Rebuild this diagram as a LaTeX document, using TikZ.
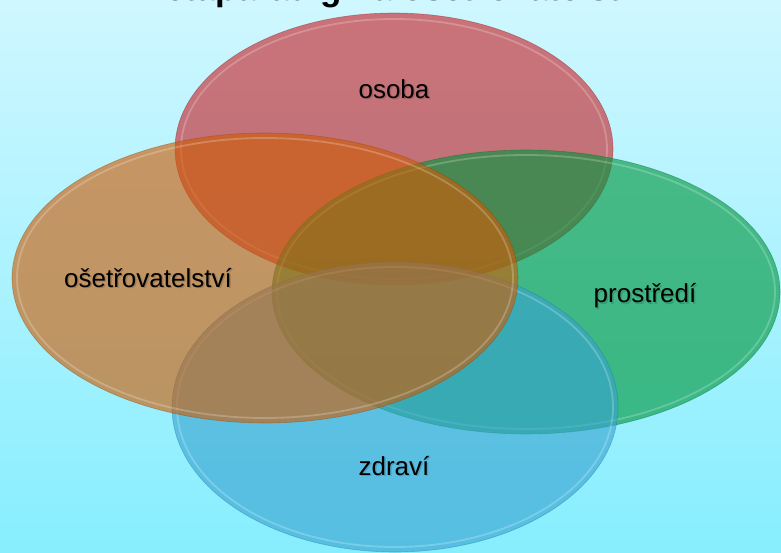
\documentclass[tikz,border=0pt]{standalone}
\usepackage{fontspec}
\setmainfont{Liberation Sans}
\usetikzlibrary{shapes.geometric}

\definecolor{bgtop}{RGB}{207,247,255}
\definecolor{bgbot}{RGB}{135,238,254}
\definecolor{cred}{RGB}{200,35,40}
\definecolor{cgreen}{RGB}{0,150,60}
\definecolor{cblue}{RGB}{55,163,210}
\definecolor{corange}{RGB}{206,92,5}

\tikzset{
  venn/.style={ellipse, inner sep=0pt, fill opacity=0.62, draw opacity=0.4, line width=0.6pt},
  rim/.style={draw=white, draw opacity=0.22, line width=1.8pt},
  vennlabel/.style={font=\fontsize{26}{30}\selectfont, text=black, inner sep=0pt},
  labelshadow/.style={font=\fontsize{26}{30}\selectfont, text=black, text opacity=0.15, inner sep=0pt},
  titletext/.style={font=\fontsize{35}{40}\selectfont\bfseries, text=black, inner sep=0pt}
}

\begin{document}
\begin{tikzpicture}[x=1pt,y=-1pt]
\useasboundingbox (0,0) rectangle (781,553);
\begin{scope}
  \clip (0,0) rectangle (781,553);
  % background
  \shade[top color=bgtop, bottom color=bgbot] (0,0) rectangle (781,553);
  % heading, mostly above the page edge
  \node[titletext, anchor=base west] (title) at (136,1) {Metaparadigma ošetřovatelství};

  % the four overlapping sets
  \node[venn, fill=cred, draw=cred!70!black, minimum width=438pt, minimum height=272pt] (osoba) at (394,149) {};
  \draw[rim] (osoba.center) ellipse [x radius=213, y radius=130];

  \node[venn, fill=cgreen, draw=cgreen!70!black, minimum width=508pt, minimum height=284pt] (prostredi) at (526,292) {};
  \draw[rim] (prostredi.center) ellipse [x radius=249, y radius=137];

  \node[venn, fill=cblue, draw=cblue!70!black, minimum width=446pt, minimum height=290pt] (zdravi) at (395,407) {};
  \draw[rim] (zdravi.center) ellipse [x radius=218, y radius=140];

  \node[venn, fill=corange, draw=corange!70!black, minimum width=506pt, minimum height=290pt] (osetr) at (265,278) {};
  \draw[rim] (osetr.center) ellipse [x radius=248, y radius=140];

  % soft label shadows
  \node[labelshadow] at (395.5,90.5) {osoba};
  \node[labelshadow] at (646.5,297.5) {prostředí};
  \node[labelshadow] at (395.5,467.5) {zdraví};
  \node[labelshadow] at (149.5,279.5) {ošetřovatelství};

  % labels
  \node[vennlabel] (losoba) at (394,89) {osoba};
  \node[vennlabel] (lprostredi) at (645,296) {prostředí};
  \node[vennlabel] (lzdravi) at (394,466) {zdraví};
  \node[vennlabel] (losetr) at (148,278) {ošetřovatelství};
\end{scope}
\end{tikzpicture}
\end{document}
